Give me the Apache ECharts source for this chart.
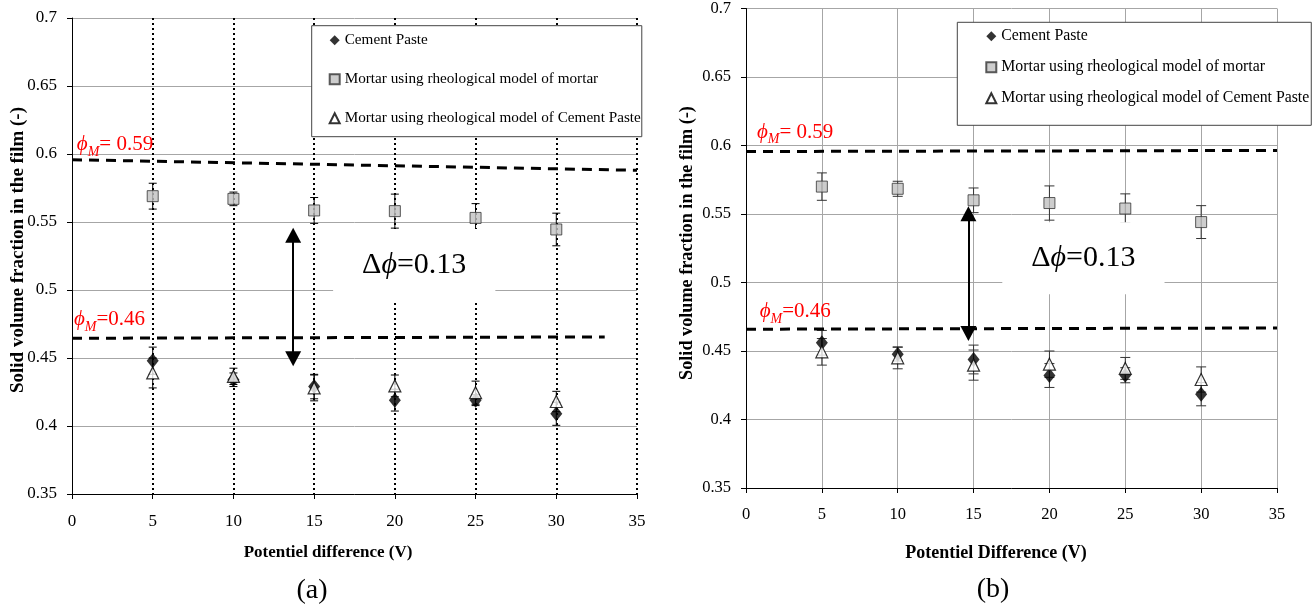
<!DOCTYPE html>
<html>
<head>
<meta charset="utf-8">
<script src="https://cdn.jsdelivr.net/npm/echarts@6/dist/echarts.min.js"></script>
<style>
html,body{margin:0;padding:0;background:#fff;}
#chart{width:1316px;height:609px;}
</style>
</head>
<body>
<div id="chart"></div>
<script>
// potential difference (V)
var voltage=[5,10,15,20,25,30];
var seriesNames=["Cement Paste","Mortar using rheological model of mortar","Mortar using rheological model of Cement Paste"];

// (a)
var pasteA=[0.448,0.434,0.429,0.419,0.419,0.409];
var pasteErrA=[0.010,0.005,0.009,0.008,0.004,0.0085];
var mortarA=[0.569,0.567,0.5585,0.558,0.553,0.5445];
var mortarErrA=[0.0095,0.005,0.0095,0.0125,0.0105,0.012];
var mortarCpA=[0.439,0.4365,0.428,0.4295,0.4245,0.418];
var mortarCpErrA=[0.011,0.006,0.0095,0.008,0.0085,0.0075];
var phiHighA=[[0,0.5958],[35,0.588]];
var phiLowA=[[0,0.4645],[33,0.4655]];
var arrowA=[13.7,0.5402,0.4495];

// (b)
var pasteB=[0.456,0.4477,0.4438,0.4321,0.4323,0.4185];
var pasteErrB=[0.009,0.005,0.0105,0.0087,0.0055,0.0085];
var mortarB=[0.570,0.5684,0.560,0.558,0.554,0.5441];
var mortarErrB=[0.01,0.0055,0.009,0.0125,0.0107,0.012];
var mortarCpB=[0.4494,0.445,0.4397,0.4404,0.4373,0.4292];
var mortarCpErrB=[0.0097,0.008,0.011,0.0096,0.008,0.0092];
var phiHighB=[[0,0.5956],[35,0.5964]];
var phiLowB=[[0,0.4659],[35,0.4668]];
var arrowB=[14.66,0.5501,0.4628];

// annotations: [x, y] in data units
var labelHighA=[0.3,0.6068], labelLowA=[0.12,0.478];
var labelHighB=[0.72,0.6098], labelLowB=[0.9,0.4786];
var deltaA=[21.2,0.5184], deltaB=[22.24,0.5177];

var FONT="'Liberation Serif','Times New Roman',serif";

function pairs(vals){
	return voltage.map(function(v,i){return [v,vals[i]];});
}
function errRows(vals,errs){
	return voltage.map(function(v,i){return [v,vals[i]-errs[i],vals[i]+errs[i]];});
}
function errSeries(g,vals,errs,color,cap){
	return {
		type:'custom',xAxisIndex:g,yAxisIndex:g,z:1,silent:true,
		encode:{x:0,y:[1,2]},
		data:errRows(vals,errs),
		renderItem:function(params,api){
			var x=api.value(0);
			var lo=api.coord([x,api.value(1)]);
			var hi=api.coord([x,api.value(2)]);
			var st={stroke:color,lineWidth:1};
			return {type:'group',children:[
				{type:'line',shape:{x1:hi[0],y1:hi[1],x2:lo[0],y2:lo[1]},style:st},
				{type:'line',shape:{x1:hi[0]-cap,y1:hi[1],x2:hi[0]+cap,y2:hi[1]},style:st},
				{type:'line',shape:{x1:lo[0]-cap,y1:lo[1],x2:lo[0]+cap,y2:lo[1]},style:st}
			]};
		}
	};
}
function dashLine(g,pts,arrow){
	var s={
		type:'line',xAxisIndex:g,yAxisIndex:g,z:3,silent:true,
		data:pts,symbol:'none',
		lineStyle:{color:'#000',width:3,type:[10,7]}
	};
	if(arrow){
		s.markLine={
			silent:true,symbol:['triangle','triangle'],symbolSize:[16,15],
			label:{show:false},
			lineStyle:{type:'solid',color:'#000',width:2},
			data:[[{coord:[arrow[0],arrow[1]]},{coord:[arrow[0],arrow[2]]}]]
		};
	}
	return s;
}
function points(g,a,b,c){
	return [
		{type:'scatter',name:seriesNames[0],xAxisIndex:g,yAxisIndex:g,z:4,
			symbol:'diamond',symbolSize:[12,15],data:pairs(a),
			itemStyle:{color:'#000'}},
		{type:'scatter',name:seriesNames[1],xAxisIndex:g,yAxisIndex:g,z:4,
			symbol:'rect',symbolSize:11,data:pairs(b),
			itemStyle:{color:'#c0c0c0',borderColor:'#333',borderWidth:1}},
		{type:'scatter',name:seriesNames[2],xAxisIndex:g,yAxisIndex:g,z:5,
			symbol:'triangle',symbolSize:[12,12],data:pairs(c),
			itemStyle:{color:'#fff',borderColor:'#000',borderWidth:1.2}}
	];
}
function xAxisCfg(g,size,margin,split){
	return {gridIndex:g,type:'value',min:0,max:35,interval:5,
		axisLine:{onZero:false,lineStyle:{color:'#000',width:1}},
		axisTick:{length:5,lineStyle:{color:'#000'}},
		axisLabel:{margin:margin,fontSize:size,fontFamily:FONT,color:'#000'},
		splitLine:split};
}
function yAxisCfg(g,size,split){
	return {gridIndex:g,type:'value',min:0.35,max:0.7,interval:0.05,
		axisLine:{show:true,onZero:false,lineStyle:{color:'#000',width:1}},
		axisTick:{show:true,length:5,lineStyle:{color:'#000'}},
		axisLabel:{margin:15,fontSize:size,fontFamily:FONT,color:'#000'},
		splitLine:split};
}
function legendCfg(left,top,pad,gap,size){
	return {left:left,top:top,orient:'vertical',data:seriesNames,selectedMode:false,
		backgroundColor:'#fff',borderColor:'#444',borderWidth:1,borderRadius:0,
		padding:pad,itemGap:gap,itemWidth:10,itemHeight:10,
		textStyle:{fontFamily:FONT,fontSize:size,color:'#000',lineHeight:15}};
}

var chart=echarts.init(document.getElementById('chart'),null,{renderer:'canvas'});
var graySplit={show:true,lineStyle:{color:'#a6a6a6',width:1}};
var option={
	animation:false,
	backgroundColor:'#fff',
	grid:[
		{left:72,top:18,width:565,height:476},
		{left:746,top:8,width:531,height:480}
	],
	xAxis:[
		xAxisCfg(0,17,19,{show:true,showMinLine:false,lineStyle:{color:'#000',width:2,type:[2,3]}}),
		xAxisCfg(1,16.5,18.5,{show:true,showMinLine:false,lineStyle:{color:'#a6a6a6',width:1}})
	],
	yAxis:[
		yAxisCfg(0,17,graySplit),
		yAxisCfg(1,16.5,graySplit)
	],
	legend:[
		legendCfg(311.7,25.7,[7,1,11,17],24,15.2),
		legendCfg(957.3,22.3,[6,2,19,28],15,15.8)
	],
	series:[].concat(
		[errSeries(0,pasteA,pasteErrA,'#000',4),
		 errSeries(0,mortarA,mortarErrA,'#000',4),
		 errSeries(0,mortarCpA,mortarCpErrA,'#000',4),
		 dashLine(0,phiHighA,arrowA),dashLine(0,phiLowA)],
		points(0,pasteA,mortarA,mortarCpA),
		[errSeries(1,pasteB,pasteErrB,'#333',5),
		 errSeries(1,mortarB,mortarErrB,'#333',5),
		 errSeries(1,mortarCpB,mortarCpErrB,'#333',5),
		 dashLine(1,phiHighB,arrowB),dashLine(1,phiLowB)],
		points(1,pasteB,mortarB,mortarCpB)
	)
};
chart.setOption(option);

function phiLabel(g,pos,value){
	var p=chart.convertToPixel({gridIndex:g},pos);
	var red='#ff0000';
	return {type:'text',x:p[0],y:p[1],z:6,style:{
		text:'{p|ϕ}{m|M}{v|'+value+'}',
		textAlign:'left',textVerticalAlign:'middle',
		rich:{
			p:{fontFamily:FONT,fontStyle:'italic',fontSize:21,lineHeight:21,fill:red,verticalAlign:'top'},
			m:{fontFamily:FONT,fontStyle:'italic',fontSize:14,lineHeight:14,fill:red,verticalAlign:'top',padding:[11,0,0,0]},
			v:{fontFamily:FONT,fontSize:21,lineHeight:21,fill:red,verticalAlign:'top'}
		}
	}};
}
function deltaLabel(g,pos){
	var p=chart.convertToPixel({gridIndex:g},pos);
	return {type:'text',x:p[0],y:p[1],z:1,style:{
		text:'{d|Δ}{p|ϕ}{v|=0.13}',
		textAlign:'center',textVerticalAlign:'middle',
		backgroundColor:'#fff',padding:[21,29,21,29],
		rich:{
			d:{fontFamily:FONT,fontSize:30,fill:'#000'},
			p:{fontFamily:FONT,fontStyle:'italic',fontSize:30,fill:'#000'},
			v:{fontFamily:FONT,fontSize:30,fill:'#000'}
		}
	}};
}
function title(x,y,text,size,bold,rot){
	return {type:'text',x:x,y:y,rotation:rot||0,z:6,style:{
		text:text,fontFamily:FONT,fontSize:size,fontWeight:bold?'bold':'normal',
		fill:'#000',textAlign:'center',textVerticalAlign:'middle'}};
}
chart.setOption({graphic:[
	deltaLabel(0,deltaA),deltaLabel(1,deltaB),
	phiLabel(0,labelHighA,'= 0.59'),phiLabel(0,labelLowA,'=0.46'),
	phiLabel(1,labelHighB,'= 0.59'),phiLabel(1,labelLowB,'=0.46'),
	title(328,553,'Potentiel difference (V)',17,true),
	title(996,553,'Potentiel Difference (V)',18,true),
	title(18,250,'Solid volume fraction in the film (-)',19,true,Math.PI/2),
	title(687,243,'Solid volume fraction in the film (-)',18.2,true,Math.PI/2),
	title(312,591,'(a)',28,false),
	title(993,590,'(b)',28,false)
]});
</script>
</body>
</html>
